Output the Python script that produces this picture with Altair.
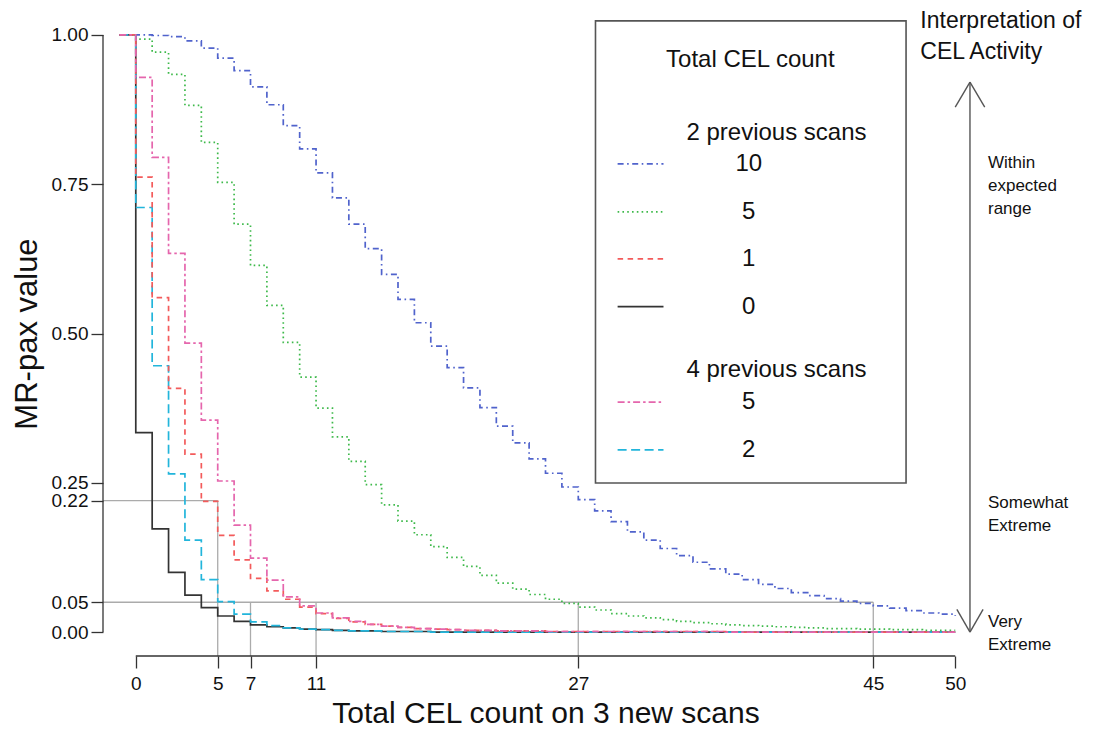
import altair as alt
import pandas as pd

FONT = "Liberation Sans"

# x positions (CEL count); curves are drawn as steps starting at x = -1
x_counts = list(range(-1, 51))

blue_2prev_10 = [1.000, 1.000, 0.999, 0.997, 0.990, 0.978, 0.961, 0.940, 0.913, 0.883,
                 0.848, 0.809, 0.769, 0.727, 0.683, 0.642, 0.599, 0.557, 0.518, 0.479,
                 0.443, 0.409, 0.376, 0.345, 0.317, 0.290, 0.266, 0.243, 0.222, 0.203,
                 0.185, 0.168, 0.154, 0.140, 0.128, 0.117, 0.106, 0.097, 0.088, 0.080,
                 0.073, 0.066, 0.061, 0.056, 0.052, 0.048, 0.044, 0.040, 0.036, 0.032,
                 0.030, 0.027]
green_2prev_5 = [1.000, 0.993, 0.971, 0.934, 0.882, 0.820, 0.753, 0.683, 0.614, 0.547,
                 0.485, 0.427, 0.375, 0.327, 0.286, 0.247, 0.213, 0.186, 0.163, 0.143,
                 0.125, 0.110, 0.095, 0.082, 0.072, 0.063, 0.055, 0.048, 0.042, 0.037,
                 0.031, 0.027, 0.024, 0.021, 0.018, 0.016, 0.014, 0.012, 0.011, 0.010,
                 0.009, 0.008, 0.007, 0.006, 0.006, 0.005, 0.005, 0.004, 0.004, 0.003,
                 0.003, 0.003]
red_2prev_1 = [1.000, 0.762, 0.560, 0.408, 0.298, 0.219, 0.162, 0.121, 0.090, 0.069,
               0.055, 0.042, 0.031, 0.023, 0.017, 0.013, 0.010, 0.008, 0.006, 0.005,
               0.004, 0.003, 0.003, 0.002, 0.002, 0.002, 0.001, 0.001, 0.001, 0.001,
               0.001, 0.001, 0.001, 0.001, 0.001, 0.001, 0.001, 0.000, 0.000, 0.000,
               0.000, 0.000, 0.000, 0.000, 0.000, 0.000, 0.000, 0.000, 0.000, 0.000,
               0.000, 0.000]
black_2prev_0 = [1.000, 0.334, 0.173, 0.100, 0.062, 0.041, 0.027, 0.018, 0.012, 0.009,
                 0.007, 0.005, 0.004, 0.003, 0.002, 0.002, 0.001, 0.001, 0.001, 0.000,
                 0.000, 0.000, 0.000, 0.000, 0.000, 0.000, 0.000, 0.000, 0.000, 0.000,
                 0.000, 0.000, 0.000, 0.000, 0.000, 0.000, 0.000, 0.000, 0.000, 0.000,
                 0.000, 0.000, 0.000, 0.000, 0.000, 0.000, 0.000, 0.000, 0.000, 0.000,
                 0.000, 0.000]
pink_4prev_5 = [1.000, 0.929, 0.795, 0.634, 0.484, 0.355, 0.253, 0.179, 0.124, 0.087,
                0.059, 0.044, 0.032, 0.024, 0.018, 0.013, 0.010, 0.008, 0.006, 0.005,
                0.004, 0.003, 0.003, 0.002, 0.002, 0.002, 0.001, 0.001, 0.001, 0.001,
                0.001, 0.001, 0.001, 0.001, 0.001, 0.001, 0.001, 0.000, 0.000, 0.000,
                0.000, 0.000, 0.000, 0.000, 0.000, 0.000, 0.000, 0.000, 0.000, 0.000,
                0.000, 0.000]
cyan_4prev_2 = [1.000, 0.711, 0.446, 0.265, 0.154, 0.088, 0.051, 0.030, 0.017, 0.011,
                0.007, 0.005, 0.004, 0.003, 0.002, 0.002, 0.001, 0.001, 0.001, 0.000,
                0.000, 0.000, 0.000, 0.000, 0.000, 0.000, 0.000, 0.000, 0.000, 0.000,
                0.000, 0.000, 0.000, 0.000, 0.000, 0.000, 0.000, 0.000, 0.000, 0.000,
                0.000, 0.000, 0.000, 0.000, 0.000, 0.000, 0.000, 0.000, 0.000, 0.000,
                0.000, 0.000]

x_ticks = [0, 5, 7, 11, 27, 45, 50]
y_ticks = [0.0, 0.05, 0.22, 0.25, 0.50, 0.75, 1.00]

# thresholds: (count, MR-pax level) for grey guide lines
guide_points = [(5, 0.22), (7, 0.05), (11, 0.05), (27, 0.05), (45, 0.05)]

# series: (label, values, colour, dash)
series = [
    ("10", blue_2prev_10, "#5063CC", [6, 3.5, 1.6, 3.5]),
    ("5", green_2prev_5, "#3DB94A", [1.6, 3.2]),
    ("0", black_2prev_0, "#333333", [1, 0]),
    ("2", cyan_4prev_2, "#22B5DB", [9, 4.5]),
    ("1", red_2prev_1, "#F35B5B", [5.5, 4.5]),
    ("5b", pink_4prev_5, "#E566AD", [7, 3, 2.5, 3]),
]
style = {name: (col, dash) for name, _, col, dash in series}

XMIN, XMAX = -2, 52
YMIN, YMAX = -0.04, 1.04
xs = alt.Scale(domain=[XMIN, XMAX], nice=False, zero=False)
ys = alt.Scale(domain=[YMIN, YMAX], nice=False, zero=False)

x_axis = alt.Axis(values=x_ticks, domain=False, grid=False, tickSize=12, tickWidth=1.3,
                  tickColor="#333333", labelFontSize=19, labelFont=FONT, labelColor="#111111",
                  labelPadding=6, labelFlush=False, labelOverlap=False,
                  title="Total CEL count on 3 new scans", titleFont=FONT, titleFontSize=30,
                  titleFontWeight="normal", titleColor="#111111", titlePadding=5)
y_axis = alt.Axis(values=y_ticks, format=".2f", domain=False, grid=False, tickSize=12,
                  tickWidth=1.3, tickColor="#333333", labelFontSize=19, labelFont=FONT,
                  labelColor="#111111", labelPadding=3, labelFlush=False, labelOverlap=False,
                  title="MR-pax value", titleFont=FONT, titleFontSize=31,
                  titleFontWeight="normal", titleColor="#111111", titlePadding=8)

X = alt.X("x:Q", scale=xs, axis=x_axis)
Y = alt.Y("y:Q", scale=ys, axis=y_axis)

layers = []

# grey guide lines
seg_rows = []
for cx, lvl in guide_points:
    seg_rows.append({"x": cx, "x2": cx, "y": YMIN, "y2": lvl})
seg_rows.append({"x": XMIN, "x2": 5, "y": 0.22, "y2": 0.22})
seg_rows.append({"x": XMIN, "x2": 45, "y": 0.05, "y2": 0.05})
layers.append(alt.Chart(pd.DataFrame(seg_rows)).mark_rule(color="#ABABAB", strokeWidth=1.3, clip=False)
              .encode(x=X, x2="x2:Q", y=Y, y2="y2:Q"))

# axis lines (R style, spanning tick range only)
axis_rows = [{"x": XMIN, "x2": XMIN, "y": 0.0, "y2": 1.0},
             {"x": 0, "x2": 50, "y": YMIN, "y2": YMIN}]
layers.append(alt.Chart(pd.DataFrame(axis_rows)).mark_rule(color="#333333", strokeWidth=1.3, clip=False)
              .encode(x=X, x2="x2:Q", y=Y, y2="y2:Q"))

# curves
for name, vals, col, dash in series:
    d = pd.DataFrame({"x": x_counts, "y": vals})
    layers.append(alt.Chart(d).mark_line(interpolate="step-after", color=col, strokeDash=dash,
                                         strokeWidth=1.7, clip=False).encode(x=X, y=Y))

# legend box
box = pd.DataFrame([{"x": 28.05, "x2": 47.0, "y": 1.0235, "y2": 0.2496}])
layers.append(alt.Chart(box).mark_rect(fill="white", stroke="#555555", strokeWidth=1.6, clip=False)
              .encode(x=X, x2="x2:Q", y=Y, y2="y2:Q"))

# legend samples
legend_entries = [("10", 0.784), ("5", 0.7035), ("1", 0.625), ("0", 0.545), ("5b", 0.385), ("2", 0.305)]
for key, ly in legend_entries:
    col, dash = style[key]
    d = pd.DataFrame([{"x": 29.4, "x2": 32.2, "y": ly}])
    layers.append(alt.Chart(d).mark_rule(color=col, strokeDash=dash, strokeWidth=1.7, clip=False)
                  .encode(x=X, x2="x2:Q", y=Y))

legend_texts = pd.DataFrame(
    [{"x": 37.5, "y": 0.958, "t": "Total CEL count", "a": "center"},
     {"x": 33.6, "y": 0.836, "t": "2 previous scans", "a": "left"},
     {"x": 33.6, "y": 0.439, "t": "4 previous scans", "a": "left"}]
    + [{"x": 37.4, "y": ly, "t": key.rstrip("b"), "a": "center"} for key, ly in legend_entries]
)
for a in ["left", "center"]:
    layers.append(alt.Chart(legend_texts[legend_texts.a == a]).mark_text(
        align=a, baseline="middle", font=FONT, fontSize=24, color="#111111", clip=False)
        .encode(x=X, y=Y, text="t:N"))

# interpretation annotation
head_texts = pd.DataFrame([{"x": 47.87, "y": 1.0235, "t": "Interpretation of"},
                           {"x": 47.87, "y": 0.9715, "t": "CEL Activity"}])
layers.append(alt.Chart(head_texts).mark_text(align="left", baseline="middle", font=FONT,
                                              fontSize=23, color="#111111", clip=False)
              .encode(x=X, y=Y, text="t:N"))

side_texts = pd.DataFrame([{"x": 52.0, "y": 0.7856, "t": "Within"},
                           {"x": 52.0, "y": 0.747, "t": "expected"},
                           {"x": 52.0, "y": 0.7085, "t": "range"},
                           {"x": 52.0, "y": 0.216, "t": "Somewhat"},
                           {"x": 52.0, "y": 0.1776, "t": "Extreme"},
                           {"x": 52.0, "y": 0.0168, "t": "Very"},
                           {"x": 52.0, "y": -0.0218, "t": "Extreme"}])
layers.append(alt.Chart(side_texts).mark_text(align="left", baseline="middle", font=FONT,
                                              fontSize=17, color="#111111", clip=False)
              .encode(x=X, y=Y, text="t:N"))

# double-headed arrow
AX, ATOP, ABOT = 50.9, 0.921, 0.0
arrow_rows = [{"x": AX, "x2": AX, "y": ATOP, "y2": ABOT},
              {"x": AX - 0.9, "x2": AX, "y": ATOP - 0.042, "y2": ATOP},
              {"x": AX + 0.9, "x2": AX, "y": ATOP - 0.042, "y2": ATOP},
              {"x": AX - 0.8, "x2": AX, "y": ABOT + 0.038, "y2": ABOT},
              {"x": AX + 0.8, "x2": AX, "y": ABOT + 0.038, "y2": ABOT}]
layers.append(alt.Chart(pd.DataFrame(arrow_rows)).mark_rule(color="#555555", strokeWidth=1.4, clip=False)
              .encode(x=X, x2="x2:Q", y=Y, y2="y2:Q"))

chart = alt.layer(*layers).properties(
    width=885, height=645,
    autosize=alt.AutoSizeParams(type="none"),
    padding={"left": 95, "top": 3, "right": 113, "bottom": 80},
    background="white",
).configure_view(stroke=None)

chart.save("out.html", embed_options={"renderer": "svg", "actions": False})
